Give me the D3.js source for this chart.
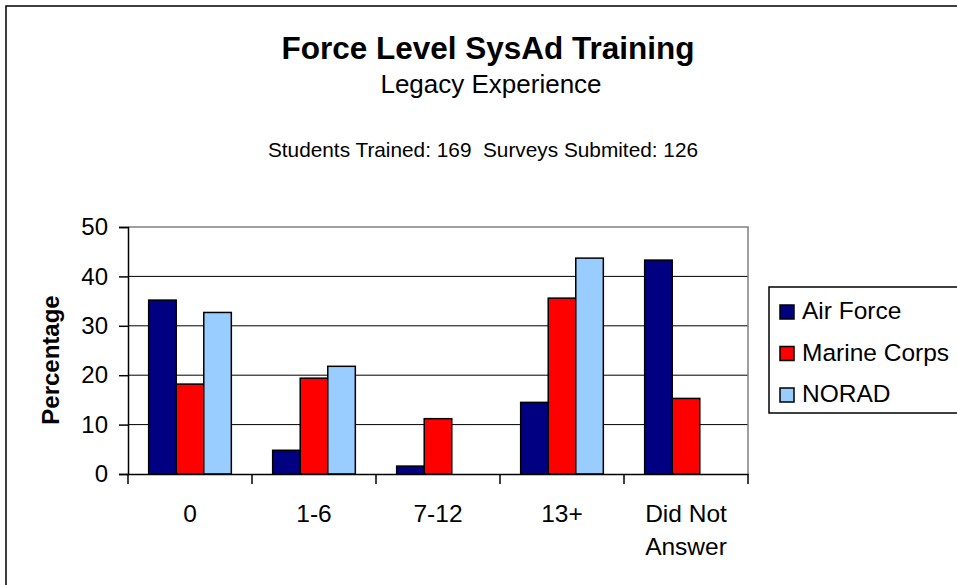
<!DOCTYPE html>
<html>
<head>
<meta charset="utf-8">
<script src="https://cdn.jsdelivr.net/npm/d3@7"></script>
<style>
body { margin: 0; background: #fff; }
svg { display: block; font-family: "Liberation Sans", Arial, sans-serif; }
</style>
</head>
<body>
<main></main>
<script>
// Категории по оси X и серии данных (проценты)
var categories = ["0", "1-6", "7-12", "13+", "Did Not Answer"];
var series_names = ["Air Force", "Marine Corps", "NORAD"];
var air_force = [35.2, 4.8, 1.6, 14.5, 43.3];
var marine_corps = [18.2, 19.4, 11.2, 35.6, 15.3];
var norad = [32.7, 21.8, 0, 43.7, 0];
var y_ticks = [0, 10, 20, 30, 40, 50];

var colors = ["#000080", "#ff0000", "#99ccff"];

var series = [air_force, marine_corps, norad];

var width = 957, height = 585;
var plot = { left: 128, top: 227, right: 748, bottom: 474 };

var svg = d3.select("main").append("svg")
			.attr("width", width)
			.attr("height", height);

// Рамка всей диаграммы (уходит за правый и нижний край)
svg.append("rect")
	.attr("x", 6)
	.attr("y", 6)
	.attr("width", 1000)
	.attr("height", 1000)
	.attr("fill", "none")
	.attr("stroke", "#000")
	.attr("stroke-width", 1.5);

// Заголовки
svg.append("text")
	.attr("x", 488)
	.attr("y", 59)
	.attr("text-anchor", "middle")
	.attr("font-size", 31.5)
	.attr("font-weight", "bold")
	.text("Force Level SysAd Training");
svg.append("text")
	.attr("x", 491)
	.attr("y", 93)
	.attr("text-anchor", "middle")
	.attr("font-size", 26)
	.text("Legacy Experience");
svg.append("text")
	.attr("x", 483)
	.attr("y", 157)
	.attr("text-anchor", "middle")
	.attr("font-size", 20.8)
	.attr("xml:space", "preserve")
	.text("Students Trained: 169  Surveys Submited: 126");

var x_scale = d3.scaleBand()
				.domain(categories)
				.range([plot.left, plot.right]);
// Зазор 150% ширины столбика, как в Excel
var x_inner = d3.scaleBand()
				.domain(series_names)
				.range([0, x_scale.bandwidth()])
				.paddingInner(0)
				.paddingOuter(0.75);
var y_scale = d3.scaleLinear()
				.domain([0, 50])
				.range([plot.bottom, plot.top]);

// Сетка
svg.append("g")
	.selectAll("line")
	.data(y_ticks.filter(function(d) { return d > 0 && d < 50; }))
	.enter()
	.append("line")
	.attr("x1", plot.left)
	.attr("x2", plot.right)
	.attr("y1", function(d) { return y_scale(d); })
	.attr("y2", function(d) { return y_scale(d); })
	.attr("stroke", "#000")
	.attr("stroke-width", 1);

// Серая граница области построения сверху и справа
svg.append("path")
	.attr("d", "M" + plot.left + "," + y_scale(50) + "H" + plot.right + "V" + plot.bottom)
	.attr("fill", "none")
	.attr("stroke", "#808080")
	.attr("stroke-width", 1.5);

// Столбики
svg.append("g")
	.selectAll("g")
	.data(series)
	.enter()
	.append("g")
	.attr("fill", function(d, i) { return colors[i]; })
	.each(function(values, i) {
		d3.select(this).selectAll("rect")
			.data(values)
			.enter()
			.append("rect")
			.attr("x", function(d, j) { return x_scale(categories[j]) + x_inner(series_names[i]); })
			.attr("width", x_inner.bandwidth())
			.attr("y", function(d) { return y_scale(d); })
			.attr("height", function(d) { return y_scale(0) - y_scale(d); })
			.attr("stroke", "#000")
			.attr("stroke-width", function(d) { return d > 0 ? 1.5 : 0; });
	});

// Ось Y
var y_axis = svg.append("g")
	.attr("transform", "translate(" + plot.left + ",0)")
	.call(d3.axisLeft(y_scale).tickValues(y_ticks).tickSize(9).tickPadding(11));
y_axis.select(".domain").attr("stroke-width", 1.5);
y_axis.selectAll(".tick line").attr("stroke-width", 1.5);
y_axis.selectAll("text")
	.attr("font-size", 24)
	.attr("font-family", "Liberation Sans, Arial, sans-serif")
	.attr("fill", "#000");

// Ось X
var x_axis = svg.append("g")
	.attr("transform", "translate(0," + plot.bottom + ")")
	.call(d3.axisBottom(x_scale).tickSize(0).tickFormat(""));
x_axis.select(".domain").attr("stroke-width", 1.5);
// Деления на границах категорий
x_axis.selectAll(".sep")
	.data(categories.concat([null]))
	.enter()
	.append("line")
	.attr("class", "sep")
	.attr("x1", function(d, i) { return plot.left + i * x_scale.step(); })
	.attr("x2", function(d, i) { return plot.left + i * x_scale.step(); })
	.attr("y1", 0)
	.attr("y2", 10)
	.attr("stroke", "#000")
	.attr("stroke-width", 1.5);
// Подписи категорий (с переносом строк)
x_axis.selectAll(".cat")
	.data(categories)
	.enter()
	.append("text")
	.attr("class", "cat")
	.attr("x", function(d) { return x_scale(d) + x_scale.bandwidth() / 2; })
	.attr("y", 48)
	.attr("text-anchor", "middle")
	.attr("font-size", 24.5)
	.attr("fill", "#000")
	.attr("font-family", "Liberation Sans, Arial, sans-serif")
	.each(function(d) {
		var words = d == "Did Not Answer" ? ["Did Not", "Answer"] : [d];
		d3.select(this).selectAll("tspan")
			.data(words)
			.enter()
			.append("tspan")
			.attr("x", x_scale(d) + x_scale.bandwidth() / 2)
			.attr("dy", function(w, k) { return k == 0 ? 0 : 33; })
			.text(function(w) { return w; });
	});

// Подпись оси Y
svg.append("text")
	.attr("transform", "translate(59,360) rotate(-90)")
	.attr("text-anchor", "middle")
	.attr("font-size", 24)
	.attr("font-weight", "bold")
	.text("Percentage");

// Легенда
var legend = svg.append("g");
legend.append("rect")
	.attr("x", 769)
	.attr("y", 287)
	.attr("width", 300)
	.attr("height", 126)
	.attr("fill", "#fff")
	.attr("stroke", "#000")
	.attr("stroke-width", 1.5);
var items = legend.selectAll("g.item")
	.data(series_names)
	.enter()
	.append("g")
	.attr("class", "item")
	.attr("transform", function(d, i) { return "translate(780," + (319 + i * 41.5) + ")"; });
items.append("rect")
	.attr("x", 0)
	.attr("y", -14)
	.attr("width", 14)
	.attr("height", 14)
	.attr("fill", function(d, i) { return colors[i]; })
	.attr("stroke", "#000")
	.attr("stroke-width", 1.5);
items.append("text")
	.attr("x", 22)
	.attr("y", 0)
	.attr("font-size", 24.5)
	.text(function(d) { return d; });
</script>
</body>
</html>
